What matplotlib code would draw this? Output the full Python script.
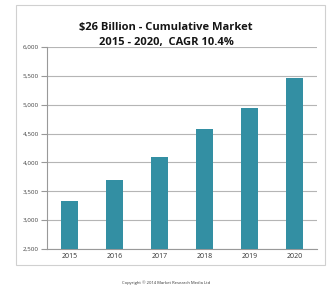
import matplotlib.pyplot as plt
from matplotlib.patches import Rectangle

# Data
years = ['2015', '2016', '2017', '2018', '2019', '2020']
market = [3330, 3700, 4100, 4580, 4950, 5470]
yticks = [2500, 3000, 3500, 4000, 4500, 5000, 5500, 6000]

plt.rcParams['font.family'] = ['Open Sans', 'DejaVu Sans']

fig = plt.figure(figsize=(3.29, 2.86), dpi=100)
fig.patch.set_facecolor('white')

# outer chart border
fig.patches.append(Rectangle((0.049, 0.073), 0.939, 0.909, transform=fig.transFigure,
                             fill=False, edgecolor='#d0d0d0', linewidth=0.8))

ax = fig.add_axes([0.143, 0.129, 0.821, 0.707])
ax.bar(range(len(years)), market, width=0.39, color='#338fa3', zorder=3)

ax.set_ylim(2500, 6000)
ax.set_xlim(-0.5, len(years) - 0.5)
ax.set_yticks(yticks)
ax.set_yticklabels([f'{v:,}' for v in yticks], fontsize=4.5, color='#444444')
ax.set_xticks(range(len(years)))
ax.set_xticklabels(years, fontsize=5, color='#333333')
ax.yaxis.grid(True, color='#b5b5b5', linewidth=0.8, zorder=0)

for side in ['top', 'right']:
    ax.spines[side].set_visible(False)
ax.spines['left'].set_color('#999999')
ax.spines['bottom'].set_color('#999999')
ax.tick_params(axis='y', length=4, width=0.8, color='#999999', pad=2)
ax.tick_params(axis='x', length=0, pad=3)

fig.text(0.505, 0.905, '$26 Billion - Cumulative Market', ha='center', va='center',
         fontsize=8, fontweight='bold', color='#151515')
fig.text(0.505, 0.853, '2015 - 2020,  CAGR 10.4%', ha='center', va='center',
         fontsize=8, fontweight='bold', color='#151515')

fig.text(0.505, 0.012, 'Copyright \u00a9 2014 Market Research Media Ltd', ha='center',
         va='center', fontsize=3, color='#333333')

fig.savefig('out.png', dpi=100)
